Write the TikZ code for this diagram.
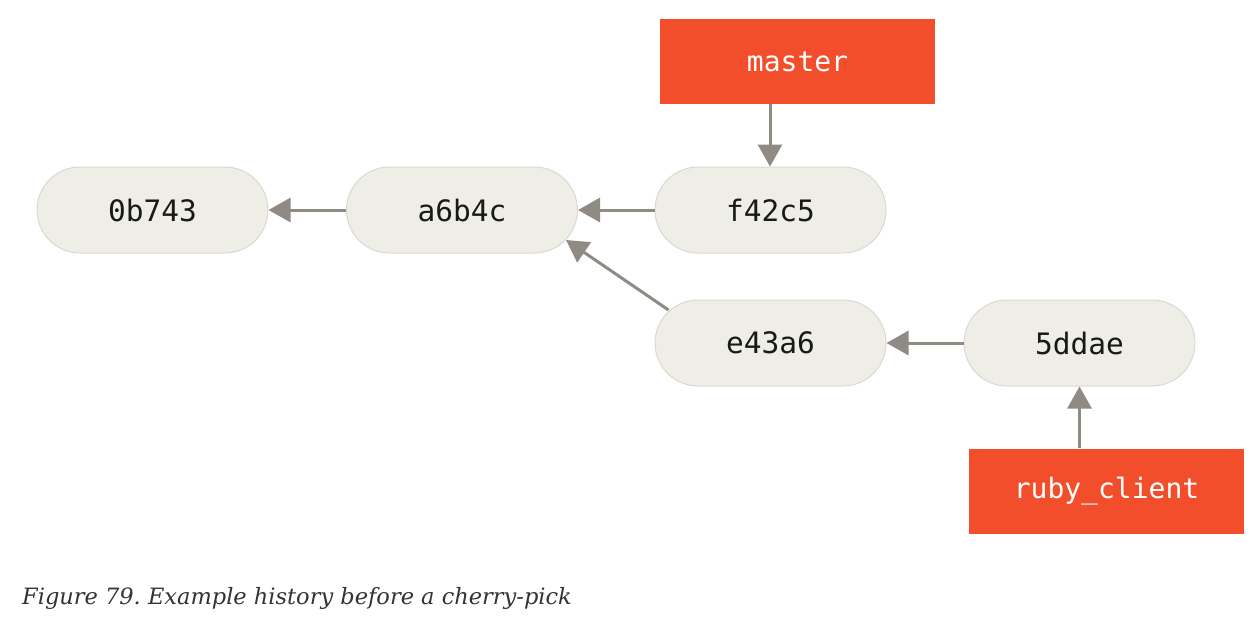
\documentclass[tikz,border=0pt]{standalone}
\usepackage{fontspec}
\newfontfamily\monof{DejaVu Sans Mono}
\newfontfamily\capf{DejaVu Serif}
\usetikzlibrary{arrows.meta,calc}
\definecolor{commitfill}{HTML}{EEEDE6}
\definecolor{commitline}{HTML}{DAD9D1}
\definecolor{arrowc}{HTML}{8F8A83}
\definecolor{branchred}{HTML}{F24E2C}
\definecolor{captionc}{HTML}{333333}
\tikzset{
  commit/.style={draw=commitline, line width=1pt, fill=commitfill, rounded corners=43pt,
    minimum width=231pt, minimum height=86pt, inner sep=0pt, font=\monof\fontsize{29.5}{31}\selectfont, text=black!90},
  branch/.style={fill=branchred, minimum width=275pt, minimum height=85pt, inner sep=0pt,
    font=\monof\fontsize{28}{30}\selectfont, text=white},
  link/.style={draw=arrowc, line width=3pt, -{Triangle[length=22pt,width=24pt]}}
}
\begin{document}
\frenchspacing
\begin{tikzpicture}[x=1pt,y=-1pt]
\useasboundingbox (0,0) rectangle (1258,625);
\node[commit] (c0) at (152.5,210) {0b743};
\node[commit] (c1) at (462,210) {a6b4c};
\node[commit] (c2) at (770.5,210) {f42c5};
\node[commit] (c3) at (770.5,343) {e43a6};
\node[commit] (c4) at (1079.5,343) {5ddae};
\node[branch] (master) at (797.5,61.5) {master};
\node[branch] (ruby) at (1106.5,491) {ruby\_client};
\coordinate (mtop) at (c2.north -| 770,0);
\coordinate (mbot) at (master.south -| 770,0);
\coordinate (rtop) at (ruby.north -| 1079.5,0);
\coordinate (rbot) at (c4.south -| 1079.5,0);
\coordinate (dstart) at ($(c3.west)+(14,-33)$);
\coordinate (dend) at ($(c1.east)+(-12,30)$);
\draw[link] (c1.west) -- (c0.east);
\draw[link] (c2.west) -- (c1.east);
\draw[link] (c4.west) -- (c3.east);
\draw[link] (dstart) -- (dend);
\draw[link] (mbot) -- (mtop);
\draw[link] (rtop) -- (rbot);
\node[anchor=west, inner sep=0pt, text=captionc, font=\capf\itshape\fontsize{22.5}{28}\selectfont] (cap) at (22,598) {Figure 79. Example history before a cherry-pick};
\end{tikzpicture}
\end{document}
